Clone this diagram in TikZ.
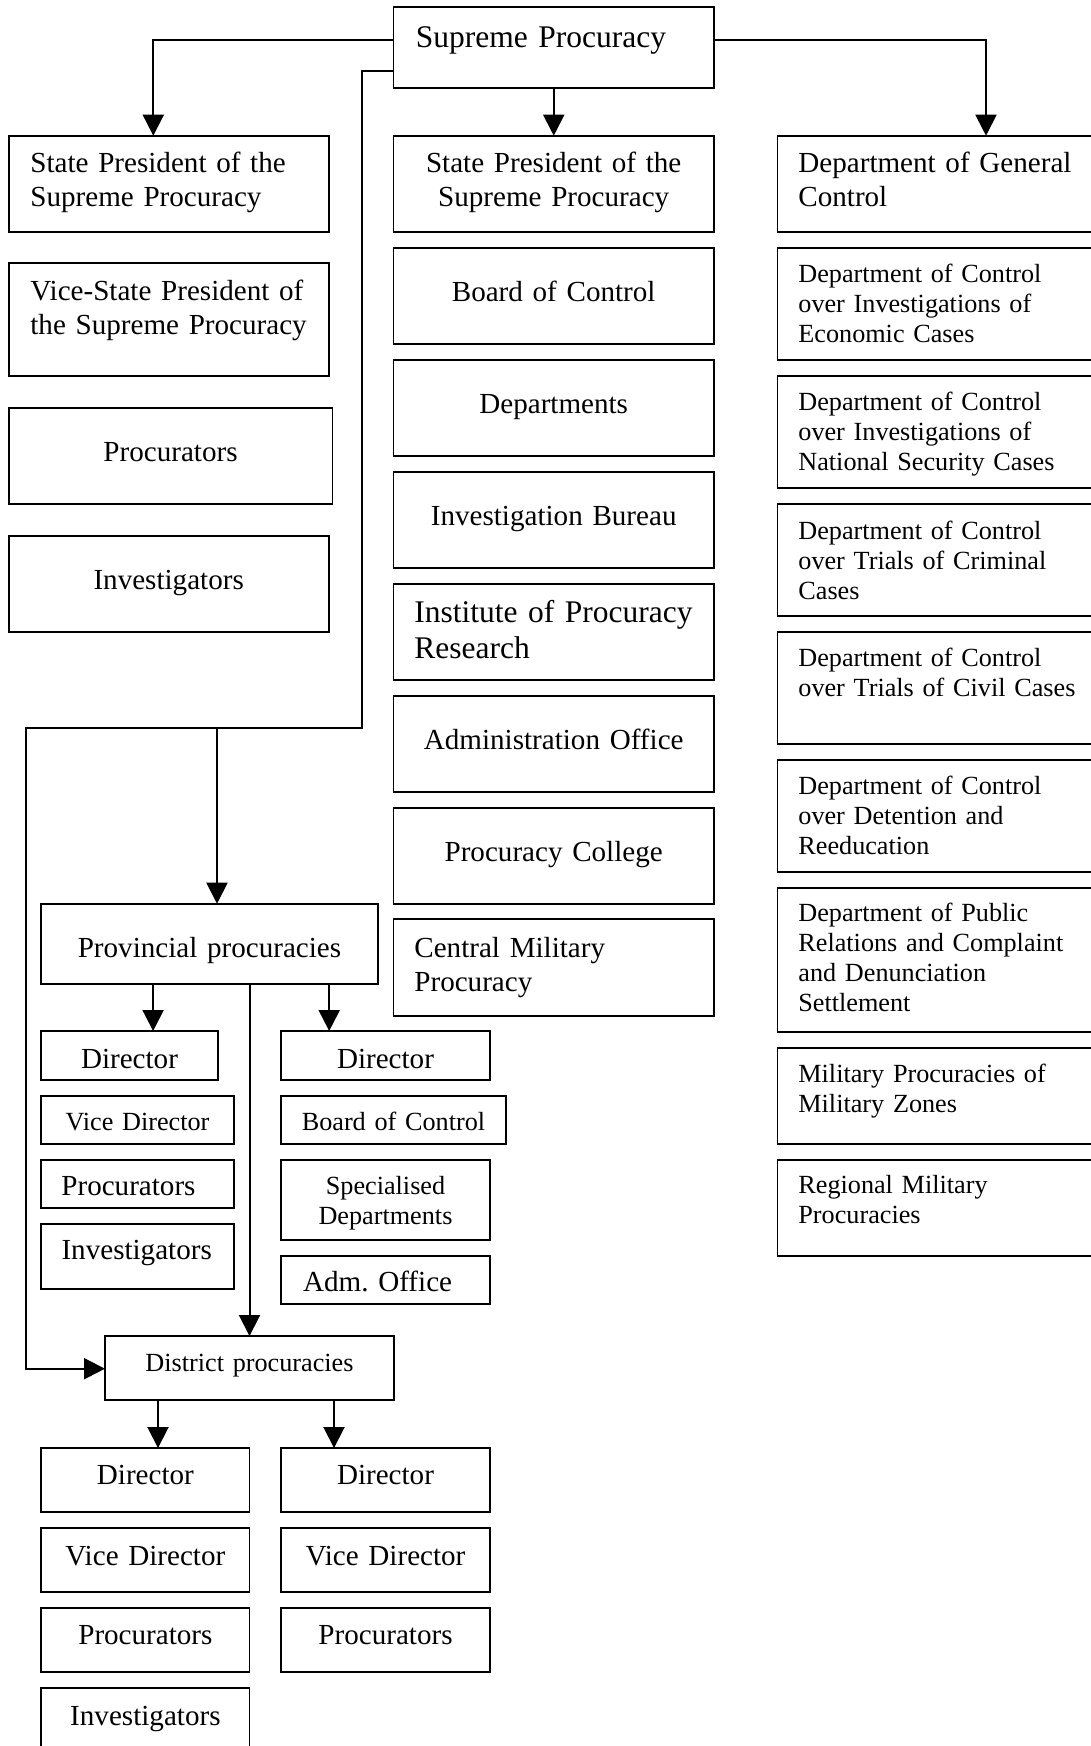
\documentclass[tikz,border=0pt]{standalone}
\usepackage{fontspec}
\setmainfont{Liberation Serif}
\usetikzlibrary{arrows.meta}
\frenchspacing
\tikzset{
 bx/.style={draw, line width=0.85pt, inner sep=0pt, outer sep=0pt, anchor=north west},
 conn/.style={line width=1pt},
 arr/.style={-{Triangle[width=10.5pt,length=10.5pt]}},
 ctxt/.style={anchor=base, inner sep=0pt, text width=300pt, align=center},
 ltxt/.style={anchor=base west, inner sep=0pt, text width=300pt, align=left},
 fb/.style={font=\fontsize{14.55}{17}\selectfont},
 fs/.style={font=\fontsize{13.1}{15}\selectfont},
 fx/.style={font=\fontsize{15.75}{18.3}\selectfont},
}
\newcommand\mybox[5]{\node[bx, minimum width={(#4-(#2))*0.5pt}, minimum height={(#5-(#3))*0.5pt}] (#1) at (#2,#3) {};}
\begin{document}
\begin{tikzpicture}[x=0.5pt,y=-0.5pt]
\useasboundingbox (0,0) rectangle (1091,1746);
\fill[white] (0,0) rectangle (1091,1746);
\clip (0,0) rectangle (1091,1746);
% top
\mybox{sup}{393.5}{7.3}{714}{88}
\node[ltxt,fx] (tsup) at (415.5,47.7) {Supreme Procuracy};
% left column
\mybox{l1}{8.7}{135.7}{329.3}{232}
\mybox{l2}{8.7}{263}{329.3}{376}
\mybox{l3}{8.7}{407.7}{332.6}{504}
\mybox{l4}{8.7}{535.7}{329.3}{632}
\node[ltxt,fb] (tl1) at (30,172.7) {State President of the\\Supreme Procuracy};
\node[ltxt,fb] (tl2) at (30,300) {Vice-State President of\\the Supreme Procuracy};
\node[ctxt,fb] (tl3) at (170.5,461.7) {Procurators};
\node[ctxt,fb] (tl4) at (168.7,589.3) {Investigators};
% middle column
\mybox{m1}{393.5}{135.7}{714}{232}
\mybox{m2}{393.5}{247.7}{714}{343.7}
\mybox{m3}{393.5}{360}{714}{456}
\mybox{m4}{393.5}{471.7}{714}{568}
\mybox{m5}{393.5}{583.7}{714}{680}
\mybox{m6}{393.5}{695.7}{714}{792}
\mybox{m7}{393.5}{807.7}{714}{904}
\mybox{m8}{393.5}{919.3}{714}{1016.3}
\node[ctxt,fb] (tm1) at (553.7,172.7) {State President of the\\Supreme Procuracy};
\node[ctxt,fb] (tm2) at (553.7,301.7) {Board of Control};
\node[ctxt,fb] (tm3) at (553.7,413.3) {Departments};
\node[ctxt,fb] (tm4) at (553.7,525.7) {Investigation Bureau};
\node[ltxt,fx] (tm5) at (414,622.3) {Institute of Procuracy\\Research};
\node[ctxt,fb] (tm6) at (553.7,749) {Administration Office};
\node[ctxt,fb] (tm7) at (553.7,861.7) {Procuracy College};
\node[ltxt,fb] (tm8) at (414,957.3) {Central Military\\Procuracy};
% right column
\mybox{r1}{777.5}{135.7}{1110}{232}
\mybox{r2}{777.5}{247.7}{1110}{360}
\mybox{r3}{777.5}{376}{1110}{488}
\mybox{r4}{777.5}{503.7}{1110}{616}
\mybox{r5}{777.5}{632}{1110}{744}
\mybox{r6}{777.5}{759.7}{1110}{872}
\mybox{r7}{777.5}{888}{1110}{1032}
\mybox{r8}{777.5}{1048}{1110}{1144}
\mybox{r9}{777.5}{1160}{1110}{1256}
\node[ltxt,fb] (tr1) at (798,172.7) {Department of General\\Control};
\node[ltxt,fs] (tr2) at (798,282.7) {Department of Control\\over Investigations of\\Economic Cases};
\node[ltxt,fs] (tr3) at (798,410.7) {Department of Control\\over Investigations of\\National Security Cases};
\node[ltxt,fs] (tr4) at (798,539.3) {Department of Control\\over Trials of Criminal\\Cases};
\node[ltxt,fs] (tr5) at (798,666.7) {Department of Control\\over Trials of Civil Cases};
\node[ltxt,fs] (tr6) at (798,794.3) {Department of Control\\over Detention and\\Reeducation};
\node[ltxt,fs] (tr7) at (798,921.7) {Department of Public\\Relations and Complaint\\and Denunciation\\Settlement};
\node[ltxt,fs] (tr8) at (798,1082.3) {Military Procuracies of\\Military Zones};
\node[ltxt,fs] (tr9) at (798,1193.3) {Regional Military\\Procuracies};
% provincial
\mybox{prov}{41}{903.7}{378}{984.3}
\node[ctxt,fb] (tprov) at (209.5,957.3) {Provincial procuracies};
\mybox{pl1}{41}{1031}{218}{1080.3}
\mybox{pl2}{41}{1095.7}{234}{1144.3}
\mybox{pl3}{41}{1160}{234}{1208.3}
\mybox{pl4}{41}{1224}{234}{1288.7}
\node[ctxt,fb] (tpl1) at (129.5,1068.3) {Director};
\node[ctxt,fs] (tpl2) at (137.5,1130.7) {Vice Director};
\node[ltxt,fb] (tpl3) at (61,1195.7) {Procurators};
\node[ctxt,fb] (tpl4) at (136.7,1259.3) {Investigators};
\mybox{pr1}{281}{1031}{490}{1080.3}
\mybox{pr2}{281}{1095.7}{506}{1144.3}
\mybox{pr3}{281}{1160}{490}{1240.3}
\mybox{pr4}{281}{1255.7}{490}{1304.3}
\node[ctxt,fb] (tpr1) at (385.5,1068.3) {Director};
\node[ctxt,fs] (tpr2) at (393.5,1130.7) {Board of Control};
\node[ctxt,fs] (tpr3) at (385.5,1194) {Specialised\\Departments};
\node[ltxt,fb] (tpr4) at (302.7,1291.7) {Adm. Office};
% district
\mybox{dist}{105}{1336}{394}{1400}
\node[ctxt,fs] (tdist) at (249.5,1371.7) {District procuracies};
\mybox{dl1}{41.3}{1448}{249.5}{1512.3}
\mybox{dl2}{41.3}{1528}{249.5}{1592.3}
\mybox{dl3}{41.3}{1608}{249.5}{1672.3}
\mybox{dl4}{41.3}{1688}{249.5}{1770}
\mybox{dr1}{281}{1448}{490}{1512.3}
\mybox{dr2}{281}{1528}{490}{1592.3}
\mybox{dr3}{281}{1608}{490}{1672.3}
\node[ctxt,fb] (tdl1) at (145.4,1484.3) {Director};
\node[ctxt,fb] (tdl2) at (145.4,1565.3) {Vice Director};
\node[ctxt,fb] (tdl3) at (145.4,1644.3) {Procurators};
\node[ctxt,fb] (tdl4) at (145.4,1725) {Investigators};
\node[ctxt,fb] (tdr1) at (385.5,1484.3) {Director};
\node[ctxt,fb] (tdr2) at (385.5,1565.3) {Vice Director};
\node[ctxt,fb] (tdr3) at (385.5,1644.3) {Procurators};
% connectors
\coordinate (kL) at (153.3,40);
\coordinate (kR) at (986,40);
\coordinate (kA) at (361.7,71.3);
\coordinate (kB) at (361.7,728.3);
\coordinate (kC) at (25.5,728.3);
\coordinate (kD) at (25.5,1368.7);
\coordinate (kP) at (217,728.3);
\coordinate (xa) at (153.1,0);
\coordinate (xb) at (329.2,0);
\coordinate (xc) at (249.5,0);
\coordinate (xd) at (158,0);
\coordinate (xe) at (334,0);
\draw[conn,arr] (sup.west |- kL) -- (kL) -- (kL |- l1.north);
\draw[conn,arr] (sup.east |- kR) -- (kR) -- (kR |- r1.north);
\draw[conn,arr] (sup.south) -- (m1.north);
\draw[conn,arr] (sup.west |- kA) -- (kA) -- (kB) -- (kC) -- (kD) -- (kD -| dist.west);
\draw[conn,arr] (kP) -- (kP |- prov.north);
\draw[conn,arr] (prov.south -| xa) -- (pl1.north -| xa);
\draw[conn,arr] (prov.south -| xb) -- (pr1.north -| xb);
\draw[conn,arr] (prov.south -| xc) -- (dist.north -| xc);
\draw[conn,arr] (dist.south -| xd) -- (dl1.north -| xd);
\draw[conn,arr] (dist.south -| xe) -- (dr1.north -| xe);
\end{tikzpicture}
\end{document}
